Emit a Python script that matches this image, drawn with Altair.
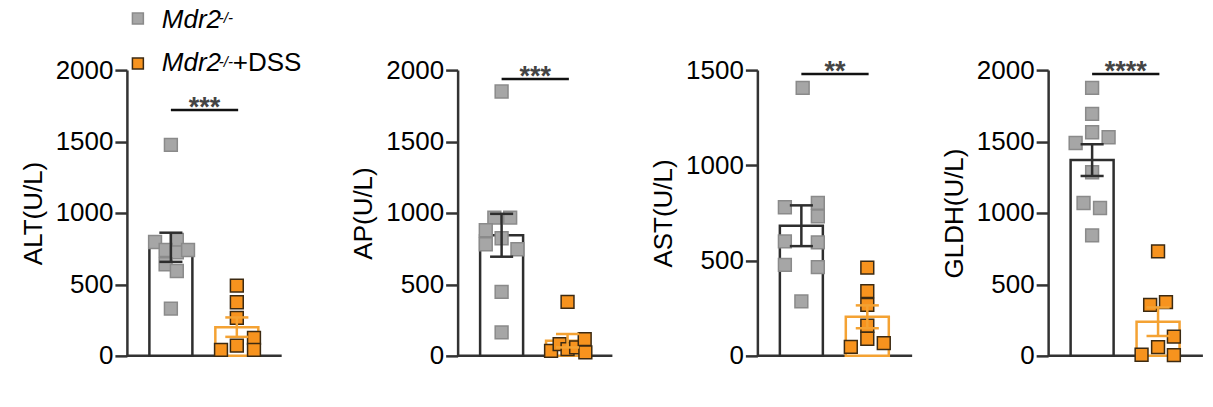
import altair as alt
import pandas as pd

FONT = "Liberation Sans"

# ---------------- data ----------------
panel_titles = ["ALT(U/L)", "AP(U/L)", "AST(U/L)", "GLDH(U/L)"]
y_max = [2000, 2000, 1500, 2000]
y_ticks = [[0, 500, 1000, 1500, 2000], [0, 500, 1000, 1500, 2000],
           [0, 500, 1000, 1500], [0, 500, 1000, 1500, 2000]]
group_names = ["Mdr2-/-", "Mdr2-/-+DSS"]

alt_ko = [1477, 797, 811, 741, 724, 741, 641, 594, 331]
alt_ko_jit = [0, -0.24, 0.09, -0.08, 0.09, 0.26, -0.08, 0.09, 0]
alt_dss = [492, 375, 266, 72, 42, 126, 42]
alt_dss_jit = [0, 0, 0, 0, -0.24, 0.26, 0.26]

ap_ko = [1850, 968, 968, 879, 823, 781, 746, 448, 164]
ap_ko_jit = [0, -0.11, 0.13, -0.24, 0, -0.24, 0.24, 0, 0]
ap_dss = [378, 35, 82, 47, 59, 117, 24]
ap_dss_jit = [0, -0.25, -0.12, 0, 0.13, 0.26, 0.27]

ast_ko = [1407, 780, 803, 732, 601, 596, 478, 466, 286]
ast_ko_jit = [0.02, -0.25, 0.25, 0.25, -0.25, 0.25, -0.25, 0.25, 0]
ast_dss = [463, 340, 268, 158, 90, 47, 67]
ast_dss_jit = [0, 0, 0, 0, 0, -0.25, 0.25]

gldh_ko = [1876, 1694, 1565, 1530, 1490, 1285, 1070, 1035, 843]
gldh_ko_jit = [0, 0, 0, 0.25, -0.25, 0, -0.13, 0.12, 0]
gldh_dss = [731, 357, 376, 135, 61, 8, 5]
gldh_dss_jit = [0, -0.12, 0.12, 0.24, 0, -0.25, 0.24]

means = [[760, 201], [844, 106], [683, 205], [1370, 239]]
sems = [[102, 68], [150, 47], [107, 60], [111, 100]]

sig_y = [1720, 1937, 1479, 1972]
sig_labels = ["***", "***", "**", "****"]

legend_main = ["Mdr2", "Mdr2"]
legend_sup = ["-/-", "-/-"]
legend_tail = "+DSS"

points_by_panel = [
    (alt_ko, alt_ko_jit, alt_dss, alt_dss_jit),
    (ap_ko, ap_ko_jit, ap_dss, ap_dss_jit),
    (ast_ko, ast_ko_jit, ast_dss, ast_dss_jit),
    (gldh_ko, gldh_ko_jit, gldh_dss, gldh_dss_jit),
]

# ---------------- styling ----------------
PX_PER_UNIT = 66.0
X0 = 0.333
X_END = 2.68
panel_widths = [331, 300, 291, 155]
PLOT_H = 286

GRAY_FILL = "#a6a6a6"
GRAY_STROKE = "#8a8a8a"
ORANGE_FILL = "#f7931e"
ORANGE_STROKE = "#3c2a12"
DARK = "#2e2e2e"
ORANGE_LINE = "#f4a233"

point_groups = ["p_ko", "p_dss"]
fill_scale = alt.Scale(domain=point_groups, range=[GRAY_FILL, ORANGE_FILL])
pstroke_scale = alt.Scale(domain=point_groups, range=[GRAY_STROKE, ORANGE_STROKE])
line_scale = alt.Scale(domain=group_names, range=[DARK, ORANGE_LINE])


def make_panel(i):
    w = panel_widths[i]
    xscale = alt.Scale(domain=[X0, X0 + w / PX_PER_UNIT], nice=False, zero=False)
    yscale = alt.Scale(domain=[0, y_max[i]], nice=False, zero=True)
    yaxis = alt.Axis(values=y_ticks[i], title=panel_titles[i], format="d", grid=False,
                     domainColor="#333333", domainWidth=2.5, tickColor="#333333",
                     tickWidth=2.5, tickSize=12, labelFontSize=26, labelFont=FONT,
                     labelColor="#000000", labelPadding=2, titleFontSize=26,
                     titleFont=FONT, titleFontWeight="normal", titleColor="#000000",
                     titlePadding=9, labelOverlap=False)

    def X(f):
        return alt.X(f, type="quantitative", scale=xscale, axis=None)

    def Y(f):
        return alt.Y(f, type="quantitative", scale=yscale, axis=yaxis)

    ko, ko_j, dss, dss_j = points_by_panel[i]
    pts = pd.DataFrame({
        "pg": [point_groups[0]] * len(ko) + [point_groups[1]] * len(dss),
        "g": [1] * len(ko) + [2] * len(dss),
        "value": ko + dss,
        "jit": ko_j + dss_j,
    })
    summ = pd.DataFrame({
        "group": group_names,
        "g": [1, 2],
        "mean": means[i],
        "sem": sems[i],
    })

    base_s = alt.Chart(summ).transform_calculate(
        xl="datum.g - 0.326", xr="datum.g + 0.326",
        cl="datum.g - 0.175", cr="datum.g + 0.175",
        lo="datum.mean - datum.sem", hi="datum.mean + datum.sem", z="0")

    bars = base_s.mark_bar(fill="white", strokeWidth=2.5).encode(
        x=X("xl"), x2="xr", y=Y("mean"), y2="z:Q",
        stroke=alt.Stroke("group:N", scale=line_scale, legend=None))

    baseline = alt.Chart(pd.DataFrame({"a": [X0], "b": [X_END], "y": [0]})).mark_rule(
        color="#333333", strokeWidth=2.5).encode(x=X("a"), x2="b", y=Y("y"))

    points = alt.Chart(pts).transform_calculate(px="datum.g + datum.jit").mark_point(
        shape="square", filled=True, size=165, strokeWidth=1.5, opacity=1).encode(
        x=X("px"), y=Y("value"),
        fill=alt.Fill("pg:N", scale=fill_scale, legend=None),
        stroke=alt.Stroke("pg:N", scale=pstroke_scale, legend=None))

    err = base_s.mark_rule(strokeWidth=2.5).encode(
        x=X("g"), y=Y("lo"), y2="hi",
        color=alt.Color("group:N", scale=line_scale, legend=None))
    cap_hi = base_s.mark_rule(strokeWidth=2.5).encode(
        x=X("cl"), x2="cr", y=Y("hi"),
        color=alt.Color("group:N", scale=line_scale, legend=None))
    cap_lo = base_s.mark_rule(strokeWidth=2.5).encode(
        x=X("cl"), x2="cr", y=Y("lo"),
        color=alt.Color("group:N", scale=line_scale, legend=None))

    sig_df = pd.DataFrame({"a": [1.0], "b": [2.02], "m": [1.51],
                           "y": [sig_y[i]], "t": [sig_labels[i]]})
    sig_line = alt.Chart(sig_df).mark_rule(color="#111111", strokeWidth=2.5).encode(
        x=X("a"), x2="b", y=Y("y"))
    stars = alt.Chart(sig_df).mark_text(
        font=FONT, fontSize=27, fontWeight="bold", color="#444444",
        baseline="alphabetic", dy=6).encode(x=X("m"), y=Y("y"), text="t:N")

    layers = [baseline, bars, points, err, cap_hi, cap_lo, sig_line, stars]

    if i == 0:
        one = pd.DataFrame({"k": [0]})
        lg = []
        lg.append(alt.Chart(one).mark_point(shape="square", filled=True, size=120,
                  fill=GRAY_FILL, stroke=GRAY_STROKE, strokeWidth=1.5, opacity=1).encode(
                  x=alt.value(11), y=alt.value(-51.6)))
        lg.append(alt.Chart(one).mark_point(shape="square", filled=True, size=120,
                  fill=ORANGE_FILL, stroke=ORANGE_STROKE, strokeWidth=1.5, opacity=1).encode(
                  x=alt.value(11), y=alt.value(-6.6)))
        for row, yb in enumerate([-42.6, 1.4]):
            lg.append(alt.Chart(one).mark_text(
                text=legend_main[row], font=FONT, fontSize=26, fontStyle="italic",
                align="left", baseline="alphabetic", color="#000000").encode(
                x=alt.value(35), y=alt.value(yb)))
            lg.append(alt.Chart(one).mark_text(
                text=legend_sup[row], font=FONT, fontSize=15, fontStyle="italic",
                align="left", baseline="alphabetic", color="#000000").encode(
                x=alt.value(92), y=alt.value(yb - 5)))
        lg.append(alt.Chart(one).mark_text(
            text=legend_tail, font=FONT, fontSize=26, align="left",
            baseline="alphabetic", color="#000000").encode(
            x=alt.value(106), y=alt.value(1.4)))
        layers += lg

    return alt.layer(*layers).resolve_scale(
        stroke="independent", fill="independent", color="independent"
    ).properties(width=w, height=PLOT_H)


chart = alt.hconcat(*[make_panel(i) for i in range(4)], spacing=0, bounds="flush").configure_view(
    stroke=None).properties(padding={"left": 12, "top": -2, "right": 0, "bottom": 5})

chart.save("out.html", embed_options={"renderer": "svg", "actions": False})
